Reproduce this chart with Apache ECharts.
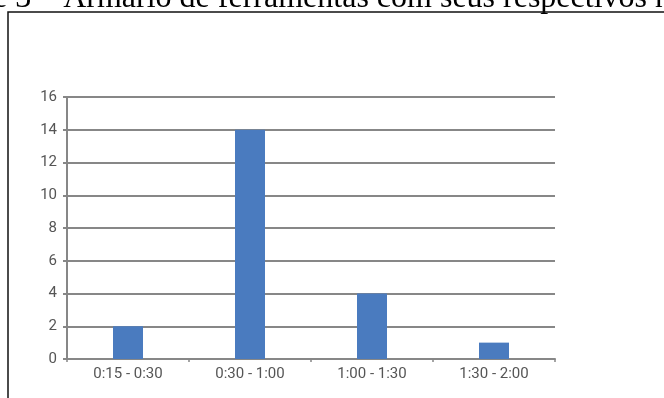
<!DOCTYPE html>
<html>
<head>
<meta charset="utf-8">
<script src="https://cdn.jsdelivr.net/npm/echarts@6/dist/echarts.min.js"></script>
<style>
  html, body { margin: 0; padding: 0; background: #ffffff; }
  #chart { width: 664px; height: 398px; }
</style>
</head>
<body>
<div id="chart"></div>
<script>
// Tempo gasto por faixa (quantidade de ocorrências)
const categories = ['0:15 - 0:30', '0:30 - 1:00', '1:00 - 1:30', '1:30 - 2:00'];
const counts = [2, 14, 4, 1];
const yTicks = { min: 0, max: 16, interval: 2 };
const caption = 'e 3 – Armário de ferramentas com seus respectivos n';

const chart = echarts.init(document.getElementById('chart'), null, { renderer: 'canvas' });
const gridGray = '#878787';
const labelGray = '#555555';

chart.setOption({
  animation: false,
  backgroundColor: '#ffffff',
  graphic: [
    {
      type: 'text',
      left: -7,
      top: -17,
      style: {
        text: caption,
        font: '32px "Liberation Serif", "Times New Roman", serif',
        fill: '#000000'
      }
    },
    {
      type: 'rect',
      shape: { x: 8, y: 12, width: 700, height: 420 },
      style: { fill: 'none', stroke: '#111111', lineWidth: 1.5 }
    }
  ],
  grid: { left: 67, top: 97, right: 109, bottom: 39, containLabel: false },
  xAxis: {
    type: 'category',
    data: categories,
    axisLine: { show: true, lineStyle: { color: gridGray, width: 2 } },
    axisTick: { show: true, length: 3, lineStyle: { color: gridGray, width: 1.5 } },
    axisLabel: { color: labelGray, fontSize: 15, fontFamily: 'Roboto, sans-serif', margin: 8 },
    splitLine: { show: false }
  },
  yAxis: {
    type: 'value',
    min: yTicks.min,
    max: yTicks.max,
    interval: yTicks.interval,
    axisLine: { show: true, lineStyle: { color: gridGray, width: 2 } },
    axisTick: { show: true, length: 4, lineStyle: { color: gridGray, width: 2 } },
    axisLabel: { color: labelGray, fontSize: 15, fontFamily: 'Roboto, sans-serif', margin: 10 },
    splitLine: { show: true, lineStyle: { color: gridGray, width: 2 } }
  },
  series: [
    {
      type: 'bar',
      data: counts,
      barWidth: 30,
      itemStyle: { color: '#4a7bbf' }
    }
  ]
});
</script>
</body>
</html>
